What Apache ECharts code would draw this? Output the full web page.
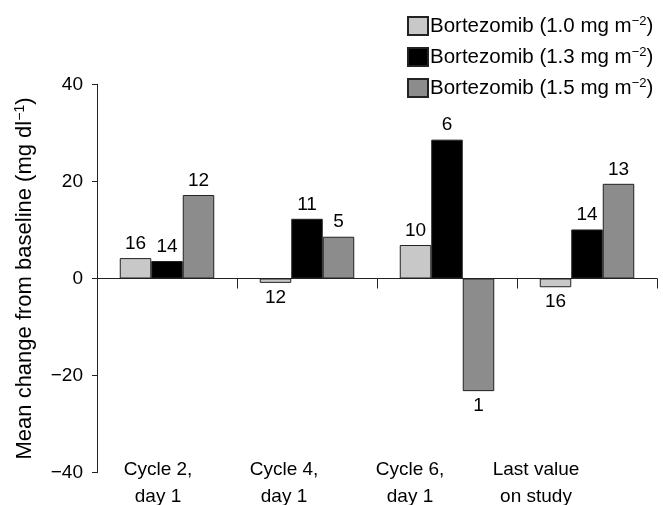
<!DOCTYPE html>
<html>
<head>
<meta charset="utf-8">
<script src="https://cdn.jsdelivr.net/npm/echarts@6/dist/echarts.min.js"></script>
<style>html,body{margin:0;padding:0;background:#fff}#c{width:663px;height:505px}</style>
</head>
<body>
<div id="c"></div>
<script>
var categories = ['Cycle 2,\nday 1', 'Cycle 4,\nday 1', 'Cycle 6,\nday 1', 'Last value\non study'];
var seriesNames = ['Bortezomib (1.0 mg m', 'Bortezomib (1.3 mg m', 'Bortezomib (1.5 mg m'];
var values10 = [4.2, -0.9, 6.9, -1.8];
var values13 = [3.6, 12.3, 28.6, 10.1];
var values15 = [17.2, 8.6, -23.2, 19.5];
var counts10 = [16, 12, 10, 16];
var counts13 = [14, 11, 6, 14];
var counts15 = [12, 5, 1, 13];
var yTicks = [-40, -20, 0, 20, 40];

var FONT = 'Liberation Sans, Arial, Helvetica, sans-serif';
var colors = ['#c8c8c8', '#000000', '#8c8c8c'];

function makeData(vals, counts) {
  return vals.map(function (v, i) {
    return {
      value: v,
      label: { position: v < 0 ? 'bottom' : 'top', formatter: String(counts[i]) }
    };
  });
}

function makeSeries(idx, vals, counts) {
  return {
    name: seriesNames[idx],
    type: 'bar',
    xAxisIndex: 0,
    yAxisIndex: 0,
    barWidth: 31.5,
    barGap: '0%',
    data: makeData(vals, counts),
    itemStyle: { color: colors[idx], borderColor: '#222', borderWidth: 1 },
    label: { show: true, color: '#000', fontSize: 19, fontFamily: FONT, distance: 5 },
    emphasis: { disabled: true }
  };
}

var chart = echarts.init(document.getElementById('c'), null, { renderer: 'canvas' });
chart.setOption({
  animation: false,
  backgroundColor: '#fff',
  legend: {
    orient: 'vertical',
    left: 402,
    top: 10,
    itemWidth: 20,
    itemHeight: 18,
    itemGap: 9,
    icon: 'rect',
    data: seriesNames,
    formatter: function (name) { return '{a|' + name + '}{s|\u22122}{a|)}'; },
    textStyle: {
      fontFamily: FONT,
      color: '#000',
      padding: [0, 0, 0, -3],
      rich: {
        a: { fontSize: 20.5, fontFamily: FONT, color: '#000', lineHeight: 18 },
        s: { fontSize: 13, fontFamily: FONT, color: '#000', lineHeight: 18, padding: [0, 0, 9, 0] }
      }
    }
  },
  grid: [
    { left: 97, right: 6, top: 84.3, bottom: 32.3, outerBoundsMode: 'none' },
    { left: 95, width: 504, top: 84.3, bottom: 48.3, outerBoundsMode: 'none' }
  ],
  xAxis: [
    {
      type: 'category',
      gridIndex: 0,
      data: categories,
      axisLine: { onZero: true, lineStyle: { color: '#222', width: 1 } },
      axisTick: { show: true, length: 10, interval: 0, lineStyle: { color: '#222' } },
      axisLabel: { show: false },
      splitLine: { show: false }
    },
    {
      type: 'category',
      gridIndex: 1,
      data: categories,
      axisLine: { show: false },
      axisTick: { show: false },
      axisLabel: { show: true, margin: 0, fontSize: 19, lineHeight: 26.5, fontFamily: FONT, color: '#000', interval: 0 },
      splitLine: { show: false }
    }
  ],
  yAxis: [
    {
      type: 'value',
      gridIndex: 0,
      min: yTicks[0],
      max: yTicks[yTicks.length - 1],
      interval: 20,
      name: '{a|Mean change from baseline (mg dl}{s|\u22121}{a|)}',
      nameLocation: 'middle',
      nameGap: 60,
      nameTextStyle: {
        rich: {
          a: { fontSize: 22, fontFamily: FONT, color: '#000' },
          s: { fontSize: 14, fontFamily: FONT, color: '#000', padding: [0, 0, 10, 0] }
        }
      },
      axisLine: { show: true, lineStyle: { color: '#222', width: 1 } },
      axisTick: { show: true, length: 5, lineStyle: { color: '#222' } },
      axisLabel: {
        fontSize: 19, fontFamily: FONT, color: '#000', margin: 14,
        formatter: function (v) { return v < 0 ? '\u2212' + Math.abs(v) : String(v); }
      },
      splitLine: { show: false }
    },
    { type: 'value', gridIndex: 1, show: false }
  ],
  series: [
    makeSeries(0, values10, counts10),
    makeSeries(1, values13, counts13),
    makeSeries(2, values15, counts15)
  ]
});
</script>
</body>
</html>
